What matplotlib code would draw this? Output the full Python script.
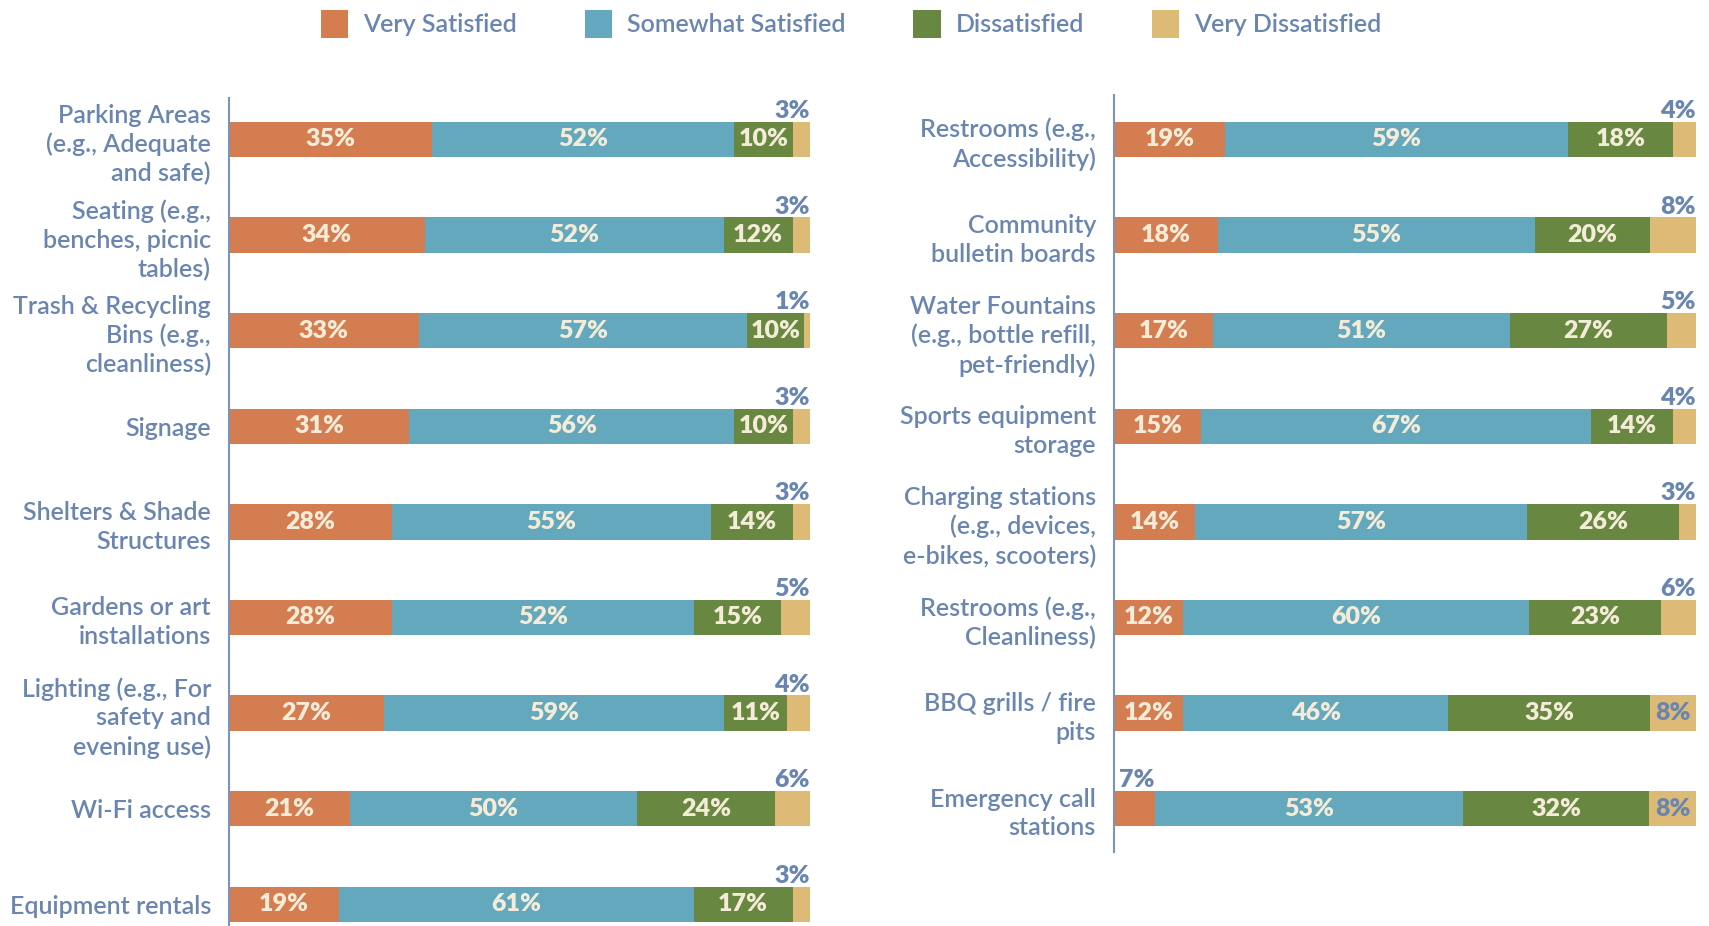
import matplotlib.pyplot as plt
import numpy as np
from matplotlib.patches import Patch

plt.rcParams["font.family"] = ["Lato", "DejaVu Sans"]

SERIES = ["Very Satisfied", "Somewhat Satisfied", "Dissatisfied", "Very Dissatisfied"]
COLORS = ["#D37D50", "#63A8BC", "#688841", "#DDBA76"]
TEXT_BLUE = "#6A86B0"
CREAM = "#F4ECD8"

LEFT_LABELS = [
    "Parking Areas\n(e.g., Adequate\nand safe)",
    "Seating (e.g.,\nbenches, picnic\ntables)",
    "Trash & Recycling\nBins (e.g.,\ncleanliness)",
    "Signage",
    "Shelters & Shade\nStructures",
    "Gardens or art\ninstallations",
    "Lighting (e.g., For\nsafety and\nevening use)",
    "Wi-Fi access",
    "Equipment rentals",
]
LEFT_VERY_SAT = [35, 34, 33, 31, 28, 28, 27, 21, 19]
LEFT_SOMEWHAT = [52, 52, 57, 56, 55, 52, 59, 50, 61]
LEFT_DISSAT = [10, 12, 10, 10, 14, 15, 11, 24, 17]
LEFT_VERY_DISSAT = [3, 3, 1, 3, 3, 5, 4, 6, 3]
# (row, series) whose label sits above the bar
LEFT_OUTSIDE = [(r, 3) for r in range(9)]

RIGHT_LABELS = [
    "Restrooms (e.g.,\nAccessibility)",
    "Community\nbulletin boards",
    "Water Fountains\n(e.g., bottle refill,\npet-friendly)",
    "Sports equipment\nstorage",
    "Charging stations\n(e.g., devices,\ne-bikes, scooters)",
    "Restrooms (e.g.,\nCleanliness)",
    "BBQ grills / fire\npits",
    "Emergency call\nstations",
]
RIGHT_VERY_SAT = [19, 18, 17, 15, 14, 12, 12, 7]
RIGHT_SOMEWHAT = [59, 55, 51, 67, 57, 60, 46, 53]
RIGHT_DISSAT = [18, 20, 27, 14, 26, 23, 35, 32]
RIGHT_VERY_DISSAT = [4, 8, 5, 4, 3, 6, 8, 8]
RIGHT_OUTSIDE = [(0, 3), (1, 3), (2, 3), (3, 3), (4, 3), (5, 3), (7, 0)]

BAR_H = 0.37
FS = 18


def draw_panel(ax, labels, columns, outside):
    vals = np.array(columns, dtype=float).T
    shares = vals / vals.sum(axis=1, keepdims=True) * 100
    y = np.arange(len(labels))
    left = np.zeros(len(labels))
    for j, color in enumerate(COLORS):
        ax.barh(y, shares[:, j], left=left, height=BAR_H, color=color)
        for i in range(len(labels)):
            txt = f"{int(vals[i, j])}%"
            if (i, j) in outside:
                ax.text(left[i] + shares[i, j], i - BAR_H / 2 - 0.04, txt, ha="right",
                        va="baseline", color=TEXT_BLUE, fontsize=FS, fontweight="heavy")
            else:
                ax.text(left[i] + shares[i, j] / 2, i, txt, ha="center", va="center",
                        color=TEXT_BLUE if j == 3 else CREAM, fontsize=FS, fontweight="heavy")
        left += shares[:, j]
    ax.set_xlim(0, 100)
    ax.set_yticks(y, labels, fontsize=FS, color=TEXT_BLUE, linespacing=1.3,
                  fontweight="semibold")
    ax.tick_params(axis="y", length=0, pad=13)
    ax.set_xticks([])
    for side in ("top", "right", "bottom"):
        ax.spines[side].set_visible(False)
    ax.spines["left"].set_color("#7D93BC")
    ax.spines["left"].set_linewidth(1.5)


fig = plt.figure(figsize=(17.09, 9.26), dpi=100)
W, H = 1709, 926
ax_l = fig.add_axes([229 / W, 0.0, (810 - 229) / W, 1 - 98 / H])
ax_r = fig.add_axes([1114 / W, 1 - 852 / H, (1696 - 1114) / W, (852 - 95) / H])

draw_panel(ax_l, LEFT_LABELS, [LEFT_VERY_SAT, LEFT_SOMEWHAT, LEFT_DISSAT, LEFT_VERY_DISSAT], LEFT_OUTSIDE)
draw_panel(ax_r, RIGHT_LABELS, [RIGHT_VERY_SAT, RIGHT_SOMEWHAT, RIGHT_DISSAT, RIGHT_VERY_DISSAT], RIGHT_OUTSIDE)
ax_l.set_ylim(8.227, -0.434)
ax_r.set_ylim(7.453, -0.465)

handles = [Patch(facecolor=c, edgecolor="none") for c in COLORS]
leg = fig.legend(handles, SERIES, loc="center", bbox_to_anchor=(0.498, 0.974), ncol=4,
                 frameon=False, handlelength=1.1, handleheight=1.3,
                 columnspacing=2.7, handletextpad=0.6,
                 prop={"size": FS, "weight": "semibold"})
for t in leg.get_texts():
    t.set_color(TEXT_BLUE)

fig.savefig("out.png", dpi=100)
